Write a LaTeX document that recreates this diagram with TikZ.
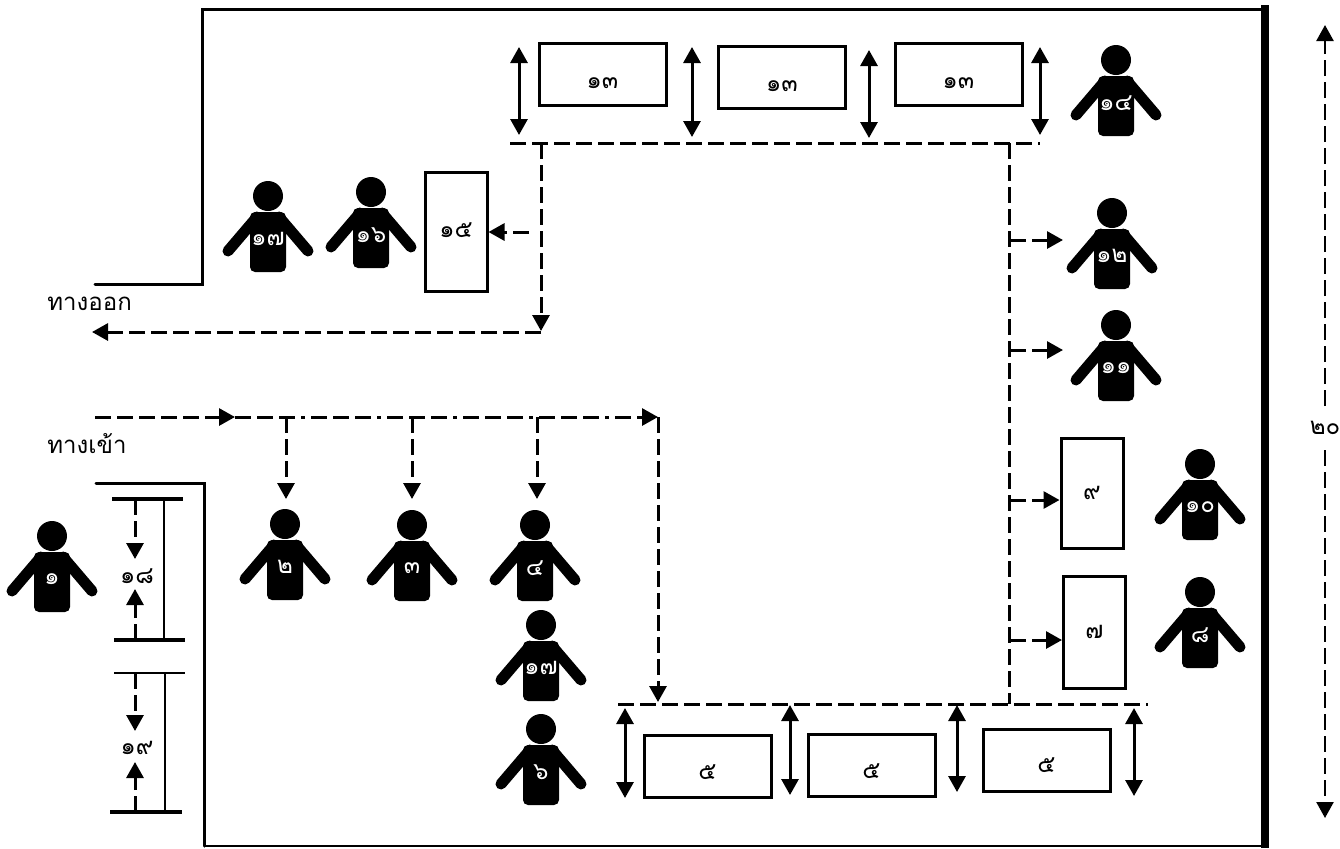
\documentclass[tikz,border=0pt]{standalone}
\usepackage{fontspec}
\usetikzlibrary{arrows.meta}
\newfontfamily\thaifont[Script=Thai]{Loma}
\tikzset{
  wall/.style={line width=1.5pt,line cap=round,line join=miter},
  thinwall/.style={line width=1.1pt},
  dashline/.style={line width=1.5pt,dash pattern=on 8pt off 3pt},
  dashdot/.style={line width=1.5pt,dash pattern=on 8pt off 3pt on 8pt off 3pt on 8pt off 3pt on 2pt off 3pt},
  tip/.style={-{Triangle[width=8.5pt,length=8pt]}},
  dbl/.style={line width=1.5pt,{Triangle[width=8.5pt,length=8pt]}-{Triangle[width=8.5pt,length=8pt]}},
  station/.style={draw,line width=1.5pt,fill=white,inner sep=0pt,anchor=center},
  num/.style={font=\thaifont\fontsize{12}{12}\selectfont,inner sep=0pt},
  word/.style={font=\thaifont\fontsize{12}{12}\selectfont,inner sep=0pt,anchor=west},
  head/.style={circle,fill=black,minimum size=15pt,inner sep=0pt},
  torso/.style={fill=black,rounded corners=2.5pt,minimum width=18pt,minimum height=30pt,inner sep=0pt},
  arm/.style={line width=5.5pt,line cap=round},
  bodynum/.style={num,text=white},
}
% name, head x, head y, label
\newcommand{\figperson}[4]{%
  \draw[arm] (#2-11,#3+21) -- (#2-40,#3+55);
  \draw[arm] (#2+11,#3+21) -- (#2+40,#3+55);
  \node[head] (#1h) at (#2,#3) {};
  \node[torso] (#1b) at (#2,#3+46) {};
  \node[bodynum] (#1t) at (#2,#3+43) {#4};
}
% name, cx, cy, w(pt), h(pt), label, text y offset
\newcommand{\figbox}[7]{%
  \node[station,minimum width=#4pt,minimum height=#5pt] (#1) at (#2,#3) {};
  \node[num] (#1t) at (#2,#3+#7) {#6};
}
\begin{document}
\begin{tikzpicture}[x=0.5pt,y=-0.5pt]
\useasboundingbox (0,0) rectangle (1340,848);
% walls
\coordinate (wa) at (95,284); \coordinate (wb) at (202,284); \coordinate (wc) at (202,9); \coordinate (wd) at (1262,9);
\coordinate (we) at (96,483); \coordinate (wf) at (204,483); \coordinate (wg) at (204,846); \coordinate (wh) at (1262,846);
\coordinate (ra) at (1265,5); \coordinate (rb) at (1265,848);
\draw[wall] (wa) -- (wb) -- (wc) -- (wd);
\draw[wall] (we) -- (wf) -- (wg);
\draw[line width=1pt] (wg) -- (wh);
\draw[line width=4pt] (ra) -- (rb);
% boxes
\figbox{ta}{602.5}{74}{63.5}{31}{๑๓}{9}
\figbox{tb}{782}{77.5}{63.5}{31}{๑๓}{9}
\figbox{tc}{958.5}{74}{63.5}{31}{๑๓}{9}
\figbox{bf}{456}{231.5}{31}{59.5}{๑๕}{-1}
\figbox{bn}{1092}{493}{31}{55}{๙}{0}
\figbox{bs}{1094.5}{632}{31}{56}{๗}{0}
\figbox{la}{707.5}{766}{63.5}{31}{๕}{6}
\figbox{lb}{871.5}{765}{63.5}{31}{๕}{6}
\figbox{lc}{1046.5}{760}{63.5}{31}{๕}{5}
% double arrows
\foreach \n/\x/\a/\b in {p/519/47/135,q/692/47/137,r/869/50/138,s/1040/47/135,t/625/708/798,u/790/705/795,v/957/705/792,w/1134/708/796}{
  \coordinate (\n a) at (\x,\a); \coordinate (\n b) at (\x,\b);
  \draw[dbl] (\n a) -- (\n b);
}
% main dashed routes
\coordinate (h1) at (510,143); \coordinate (h2) at (1040,143);
\coordinate (h3) at (618,704); \coordinate (h4) at (1148,704);
\coordinate (v1) at (541,143); \coordinate (v2) at (541,331);
\coordinate (x1) at (541,332); \coordinate (x2) at (92,332);
\coordinate (r1) at (1009,143); \coordinate (r2) at (1009,704);
\coordinate (n1) at (95,417); \coordinate (n2) at (235,417); \coordinate (n3) at (658,417); \coordinate (n4) at (658,702);
\draw[dashline] (h1) -- (h2);
\draw[dashline] (h3) -- (h4);
\draw[dashline,tip] (v1) -- (v2);
\draw[dashline,tip] (x1) -- (x2);
\draw[dashline] (r1) -- (r2);
\draw[dashline,tip] (n1) -- (n2);
\draw[dashdot,tip] (n2) -- (n3);
\draw[dashline,tip] (n3) -- (n4);
% drops to people
\foreach \n/\x in {da/286,db/412,dc/537}{
  \coordinate (\n a) at (\x,417); \coordinate (\n b) at (\x,499);
  \draw[dashline,tip] (\n a) -- (\n b);
}
% branches on the right
\coordinate (ba) at (1010,240); \coordinate (bb) at (1063,240);
\coordinate (bc) at (1010,350); \coordinate (bd) at (1063,350);
\coordinate (be) at (1010,500); \coordinate (bg) at (1010,640);
\draw[dashline,tip] (ba) -- (bb);
\draw[dashline,tip] (bc) -- (bd);
\draw[dashline,tip] (be) -- (be -| bn.west);
\draw[dashline,tip] (bg) -- (bg -| bs.west);
\coordinate (ff) at (529,232);
\draw[dashline,tip] (ff) -- (ff -| bf.east);
% queue areas 18 / 19
\coordinate (qa) at (112,499); \coordinate (qb) at (183,499); \coordinate (qc) at (114,640); \coordinate (qd) at (185,640);
\coordinate (qe) at (164,499); \coordinate (qf) at (164,640);
\coordinate (qg) at (135,499); \coordinate (qh) at (135,559); \coordinate (qi) at (135,640); \coordinate (qj) at (135,589);
\draw[line width=1.6pt] (qa) -- (qb); \draw[line width=1.6pt] (qc) -- (qd);
\draw[thinwall] (qe) -- (qf);
\draw[dashline,tip] (qg) -- (qh);
\draw[dashline,tip] (qi) -- (qj);
\node[num] (q18) at (137,576) {๑๘};
\coordinate (sa) at (114,673); \coordinate (sb) at (185,673); \coordinate (sc) at (110,812); \coordinate (sd) at (182,812);
\coordinate (se) at (165,673); \coordinate (sf) at (165,812);
\coordinate (sg) at (135,673); \coordinate (sh) at (135,731); \coordinate (si) at (135,812); \coordinate (sj) at (135,762);
\draw[line width=1.2pt] (sa) -- (sb); \draw[line width=1.7pt] (sc) -- (sd);
\draw[thinwall] (se) -- (sf);
\draw[dashline,tip] (sg) -- (sh);
\draw[dashline,tip] (si) -- (sj);
\node[num] (q19) at (137,748) {๑๙};
% size dimension
\coordinate (za) at (1325,428); \coordinate (zb) at (1325,25); \coordinate (zc) at (1325,818);
\draw[line width=1.2pt,dash pattern=on 8pt off 3pt,tip] (za) -- (zb);
\draw[line width=1.2pt,dash pattern=on 8pt off 3pt,tip] (za) -- (zc);
\node[num,fill=white,inner ysep=5pt,inner xsep=0pt] (z20) at (za) {๒๐};
% words
\node[word] (out) at (47,304) {ทางออก};
\node[word] (in) at (47,444) {ทางเข้า};
% people
\figperson{a}{52}{536}{๑}
\figperson{b}{285}{524}{๒}
\figperson{c}{412}{525}{๓}
\figperson{d}{535}{525}{๔}
\figperson{e}{541}{625}{๑๗}
\figperson{f}{541}{729}{๖}
\figperson{g}{268}{196}{๑๗}
\figperson{h}{371}{192}{๑๖}
\figperson{i}{1116}{60}{๑๔}
\figperson{j}{1112}{213}{๑๒}
\figperson{k}{1116}{325}{๑๑}
\figperson{l}{1200}{464}{๑๐}
\figperson{m}{1200}{592}{๘}
\end{tikzpicture}
\end{document}
